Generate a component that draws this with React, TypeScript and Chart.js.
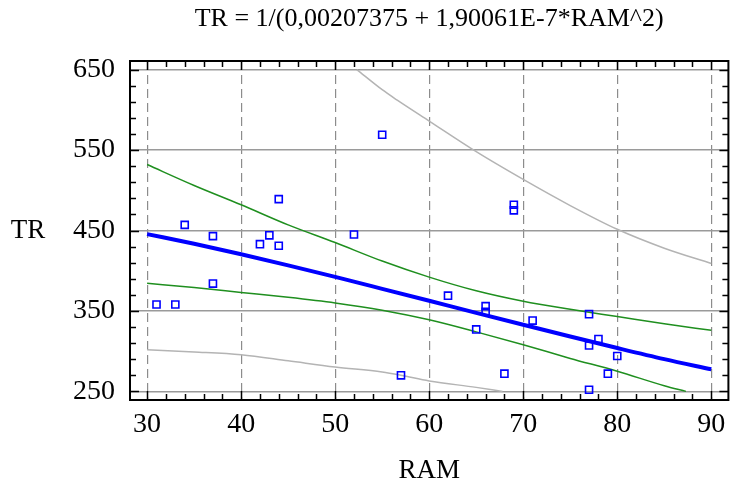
import React, { useEffect, useRef } from 'react';
import { Chart, registerables } from 'chart.js';

Chart.register(...registerables);

const TITLE = 'TR = 1/(0,00207375 + 1,90061E-7*RAM^2)';
const X_TITLE = 'RAM';
const Y_TITLE = 'TR';

const xTicks = [30, 40, 50, 60, 70, 80, 90];
const yTicks = [250, 350, 450, 550, 650];

// observations
const obsRAM = [31, 33, 34, 37, 37, 42, 43, 44, 44, 52, 55, 57, 62, 65, 66, 66, 68, 69, 69, 71, 77, 77, 77, 78, 79, 80];
const obsTR = [358, 358, 457, 443, 384, 433, 444, 489, 431, 445, 569, 270, 369, 327, 356, 349, 272, 482, 475, 338, 346, 307, 252, 315, 272, 294];

// fitted model
const fitRAM = [30, 35, 40, 45, 50, 55, 60, 65, 70, 75, 80, 85, 90];
const fitTR = [445.5, 433.5, 420.5, 406.7, 392.3, 377.5, 362.6, 347.6, 332.8, 318.2, 303.9, 290.1, 277.5];

// confidence limits for the mean
const confUpRAM = [30, 35, 40, 45, 50, 55, 60, 65, 70, 75, 80, 85, 90];
const confUpTR = [532, 506, 482, 457, 435, 412, 392, 375, 362, 352, 343, 334, 326];
const confLowRAM = [30, 35, 40, 45, 50, 55, 60, 65, 70, 75, 80, 85, 87.3];
const confLowTR = [384.5, 379, 373, 367, 360, 351, 339, 324, 308, 291, 275, 257, 250];

// prediction limits
const predUpRAM = [52.3, 55, 56.6, 60, 65, 70, 75, 80, 85, 90];
const predUpTR = [650, 625, 612, 586, 548, 513.5, 481, 451.5, 428, 409];
const predLowRAM = [30, 35, 40, 45, 50, 55, 57, 60, 65, 67.8];
const predLowTR = [301.7, 299, 295.5, 288, 280.3, 274, 270, 263, 255, 250];

const pts = (xs: number[], ys: number[]) => xs.map((x, i) => ({ x, y: ys[i] }));

const SERIF = '"Liberation Serif", "Times New Roman", serif';

const decorPlugin = {
  id: 'decor',
  afterDraw(chart: any) {
    const { ctx, chartArea: ca, scales } = chart;
    const xs = scales.x;
    const ys = scales.y;
    ctx.save();
    // frame
    ctx.strokeStyle = '#000';
    ctx.lineWidth = 2;
    ctx.strokeRect(ca.left, ca.top, ca.right - ca.left, ca.bottom - ca.top);
    // ticks
    ctx.lineWidth = 1.5;
    ctx.beginPath();
    const minorLen = 6;
    const majorLen = 9;
    for (let v = 28; v <= 92; v += 2) {
      if (v <= xs.min || v >= xs.max) continue;
      const px = Math.round(xs.getPixelForValue(v)) + 0.5;
      const len = v % 10 === 0 ? majorLen : minorLen;
      ctx.moveTo(px, ca.top);
      ctx.lineTo(px, ca.top + len);
      ctx.moveTo(px, ca.bottom);
      ctx.lineTo(px, ca.bottom - len);
    }
    for (let v = 250; v <= 650; v += 20) {
      const py = Math.round(ys.getPixelForValue(v)) + 0.5;
      const len = (v - 250) % 100 === 0 ? majorLen : minorLen;
      ctx.moveTo(ca.left, py);
      ctx.lineTo(ca.left + len, py);
      ctx.moveTo(ca.right, py);
      ctx.lineTo(ca.right - len, py);
    }
    ctx.stroke();
    // titles
    ctx.fillStyle = '#000';
    ctx.textAlign = 'center';
    ctx.textBaseline = 'middle';
    ctx.font = `26px ${SERIF}`;
    ctx.fillText(TITLE, (ca.left + ca.right) / 2, 19);
    ctx.font = `27px ${SERIF}`;
    ctx.fillText(X_TITLE, (ca.left + ca.right) / 2, 471);
    ctx.fillText(Y_TITLE, 28, (ca.top + ca.bottom) / 2);
    ctx.restore();
  },
};

const lineDs = (label: string, data: any[], color: string, width: number) => ({
  label,
  data,
  showLine: true,
  borderColor: color,
  borderWidth: width,
  pointRadius: 0,
  cubicInterpolationMode: 'monotone',
});

export default function App() {
  const ref = useRef<HTMLCanvasElement | null>(null);
  useEffect(() => {
    document.body.style.margin = '0';
    const canvas = ref.current;
    if (!canvas) return;
    const chart = new Chart(canvas, {
      type: 'scatter',
      data: {
        datasets: [
          {
            label: 'obs',
            data: pts(obsRAM, obsTR),
            pointStyle: 'rect',
            pointRadius: 5,
            borderColor: '#0000ff',
            backgroundColor: 'rgba(255,255,255,0)',
            borderWidth: 1.6,
            showLine: false,
          },
          lineDs('fit', pts(fitRAM, fitTR), '#0000ff', 4),
          lineDs('confUp', pts(confUpRAM, confUpTR), '#1f8f1f', 1.5),
          lineDs('confLow', pts(confLowRAM, confLowTR), '#1f8f1f', 1.5),
          lineDs('predUp', pts(predUpRAM, predUpTR), '#b4b4b4', 1.5),
          lineDs('predLow', pts(predLowRAM, predLowTR), '#b4b4b4', 1.5),
        ],
      },
      options: {
        animation: false,
        responsive: false,
        maintainAspectRatio: false,
        layout: { padding: { top: 61, left: 0, right: 0, bottom: 0 } },
        plugins: {
          legend: { display: false },
          tooltip: { enabled: false },
          title: { display: false },
        },
        scales: {
          x: {
            type: 'linear',
            min: 28.18,
            max: 91.82,
            afterBuildTicks: (s: any) => {
              s.ticks = xTicks.map((v) => ({ value: v }));
            },
            afterFit: (s: any) => {
              s.height = 86;
            },
            grid: { color: '#8c8c8c', lineWidth: 1.2, drawTicks: false },
            border: { display: false, dash: [9, 5] },
            ticks: {
              font: { family: SERIF, size: 28 },
              color: '#000',
              padding: 8,
              maxRotation: 0,
              autoSkip: false,
            },
          },
          y: {
            type: 'linear',
            min: 239.3,
            max: 660.7,
            afterBuildTicks: (s: any) => {
              s.ticks = yTicks.map((v) => ({ value: v }));
            },
            afterFit: (s: any) => {
              s.width = 130;
            },
            grid: { color: '#9a9a9a', lineWidth: 1.5, drawTicks: false },
            border: { display: false },
            ticks: {
              font: { family: SERIF, size: 28 },
              color: '#000',
              padding: 15,
              autoSkip: false,
            },
          },
        },
      },
      plugins: [decorPlugin],
    } as any);
    return () => chart.destroy();
  }, []);
  return (
    <div style={{ width: 733, height: 486, overflow: 'hidden', background: '#fff' }}>
      <canvas ref={ref} width={735} height={486} style={{ width: 735, height: 486, display: 'block' }} />
    </div>
  );
}
